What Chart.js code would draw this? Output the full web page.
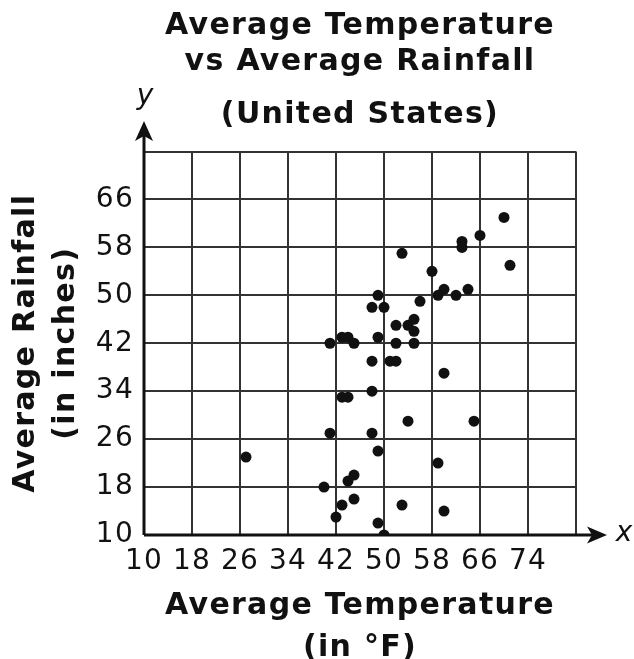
<!DOCTYPE html>
<html lang="en">
  <head>
    <meta charset="UTF-8" />
    <title>Average Temperature vs Average Rainfall</title>
    <script src="https://cdn.jsdelivr.net/npm/chart.js"></script>
    <style>
      html,
      body {
        margin: 0;
        padding: 0;
        background: #fff;
      }
      #wrap {
        width: 634px;
        height: 659px;
      }
    </style>
  </head>
  <body>
    <div id="wrap"><canvas id="scatterChart"></canvas></div>

    <script>
      // average temperature (°F) and average rainfall (in) for each state dot
      const temps = [
        27, 40, 41, 41, 42, 43, 44, 43, 44, 43, 44, 45, 45, 45, 48, 48, 48,
        48, 49, 49, 49, 49, 50, 50, 51, 52, 52, 52, 53, 53, 54, 54, 55, 55,
        55, 56, 58, 59, 59, 60, 60, 60, 62, 63, 63, 64, 65, 66, 70, 71,
      ];
      const rain = [
        23, 18, 42, 27, 13, 43, 43, 33, 33, 15, 19, 20, 16, 42, 48, 39, 34,
        27, 50, 43, 24, 12, 48, 10, 39, 39, 45, 42, 57, 15, 45, 29, 46, 44,
        42, 49, 54, 50, 22, 51, 37, 14, 50, 59, 58, 51, 29, 60, 63, 55,
      ];
      const xTicks = [10, 18, 26, 34, 42, 50, 58, 66, 74];
      const yTicks = [10, 18, 26, 34, 42, 50, 58, 66];

      const points = temps.map((t, i) => ({ x: t, y: rain[i] }));

      const FONT = "'DejaVu Sans', Verdana, sans-serif";
      const INK = "#111";

      // the original lettering is a bit wider than DejaVu, so space it out a little
      const spacing = {
        id: "spacing",
        beforeDraw(chart) {
          chart.ctx.letterSpacing = "1.3px";
        },
      };

      // axis lines with arrow heads and the x / y letters
      const axisArrows = {
        id: "axisArrows",
        beforeDatasetsDraw(chart) {
          const ctx = chart.ctx;
          const xs = chart.scales.x;
          const ys = chart.scales.y;
          const x0 = xs.getPixelForValue(10);
          const y0 = ys.getPixelForValue(10);
          ctx.save();
          ctx.strokeStyle = INK;
          ctx.fillStyle = INK;
          ctx.lineWidth = 3;
          ctx.beginPath();
          ctx.moveTo(x0, y0);
          ctx.lineTo(x0, 136);
          ctx.moveTo(x0, y0);
          ctx.lineTo(592, y0);
          ctx.stroke();

          ctx.beginPath();
          ctx.moveTo(x0, 121);
          ctx.lineTo(x0 - 9, 141);
          ctx.lineTo(x0, 136);
          ctx.lineTo(x0 + 9, 141);
          ctx.closePath();
          ctx.fill();

          ctx.beginPath();
          ctx.moveTo(607, y0);
          ctx.lineTo(587, y0 - 8.5);
          ctx.lineTo(592, y0);
          ctx.lineTo(587, y0 + 8.5);
          ctx.closePath();
          ctx.fill();

          ctx.font = "italic 28px " + FONT;
          ctx.letterSpacing = "0px";
          ctx.textAlign = "center";
          ctx.textBaseline = "middle";
          ctx.fillText("x", 624, y0 - 1);
          ctx.fillText("y", x0 + 1, 97);
          ctx.restore();
        },
      };

      new Chart(document.getElementById("scatterChart"), {
        type: "scatter",
        data: {
          datasets: [
            {
              data: points,
              backgroundColor: INK,
              borderWidth: 0,
              pointRadius: 5.5,
            },
          ],
        },
        options: {
          responsive: true,
          maintainAspectRatio: false,
          animation: false,
          layout: { padding: { left: 0, right: 58, top: 0, bottom: 0 } },
          plugins: {
            legend: { display: false },
            tooltip: { enabled: false },
            title: {
              display: true,
              fullSize: false,
              text: ["Average Temperature", "vs Average Rainfall"],
              color: INK,
              font: { family: FONT, size: 30, weight: "bold", lineHeight: 36 / 30 },
              padding: { top: 8, bottom: 0 },
            },
            subtitle: {
              display: true,
              fullSize: false,
              text: "(United States)",
              color: INK,
              font: { family: FONT, size: 30, weight: "bold", lineHeight: 35 / 30 },
              padding: { top: 18, bottom: 18.5 },
            },
          },
          scales: {
            x: {
              type: "linear",
              min: 10,
              max: 82,
              afterFit: (scale) => {
                scale.height = 124;
              },
              border: { display: false },
              grid: { color: "#333", lineWidth: 2, drawTicks: false },
              ticks: {
                stepSize: 8,
                padding: 10,
                color: INK,
                font: { family: FONT, size: 28 },
                maxRotation: 0,
                autoSkip: false,
                callback: (v) => (xTicks.includes(v) ? v : ""),
              },
              title: {
                display: true,
                text: ["Average Temperature", "(in °F)"],
                color: INK,
                font: { family: FONT, size: 30, weight: "bold", lineHeight: 1.4 },
                padding: { top: 0, bottom: -10.5 },
              },
            },
            y: {
              type: "linear",
              min: 10,
              max: 74,
              afterFit: (scale) => {
                scale.width = 144;
              },
              border: { display: false },
              grid: { color: "#333", lineWidth: 2, drawTicks: false },
              ticks: {
                stepSize: 8,
                padding: 10,
                color: INK,
                font: { family: FONT, size: 28 },
                autoSkip: false,
                callback: (v) => (yTicks.includes(v) ? v : ""),
              },
              title: {
                display: true,
                text: ["Average Rainfall", "(in inches)"],
                color: INK,
                font: { family: FONT, size: 30, weight: "bold", lineHeight: 1.33 },
                padding: { top: 6.5, bottom: 0 },
              },
            },
          },
        },
        plugins: [spacing, axisArrows],
      });
    </script>
  </body>
</html>
